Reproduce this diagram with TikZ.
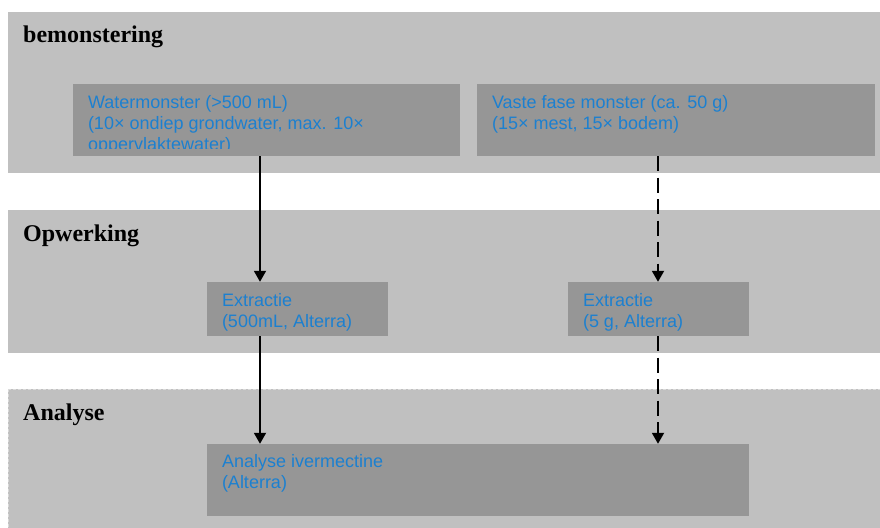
\documentclass[tikz,border=0pt]{standalone}
\usepackage{fontspec}
\setmainfont{Liberation Serif}
\setsansfont{Liberation Sans}
\usetikzlibrary{arrows.meta, positioning}

\definecolor{bandgray}{RGB}{192,192,192}
\definecolor{boxgray}{RGB}{150,150,150}
\definecolor{edgegray}{RGB}{218,218,218}
\definecolor{txtblue}{RGB}{28,128,208}

\tikzset{
  band/.style={fill=bandgray, draw=none},
  phase/.style={anchor=base west, inner sep=0pt, font=\fontsize{24}{28}\selectfont\bfseries},
  stepbox/.style={rectangle, fill=boxgray, draw=none, inner sep=0pt},
  boxtext/.style={inner sep=0pt, align=left, text=txtblue, font=\sffamily\fontsize{18}{21}\selectfont},
  flow/.style={-{Triangle[length=11pt, width=12pt]}, line width=1.8pt},
  flowdash/.style={flow, dash pattern=on 15pt off 6.5pt}
}

\begin{document}
\begin{tikzpicture}[x=1pt,y=-1pt]
    \useasboundingbox (0,0) rectangle (880,527);
    % fasen
    \path[band] (8,12) rectangle (884,173);
    \path[band] (8,210) rectangle (884,353);
    \path[band, draw=edgegray, line width=1pt, dash pattern=on 3pt off 2pt] (8,389) rectangle (884,532);
    \node[phase] (bem) at (23,43) {bemonstering};
    \node[phase] (opw) at (23,241) {Opwerking};
    \node[phase] (ana) at (23,420) {Analyse};

    % stappen
    \node[stepbox, minimum width=387pt, minimum height=72pt] (water) at (266.5,120) {};
    \begin{scope}
        \clip (water.north west) rectangle ([yshift=8pt]water.south east);
        \node[boxtext, below right=11pt and 15pt of water.north west] (watertxt) {Watermonster (>500 mL)\\(10× ondiep grondwater, max. 10×\\oppervlaktewater)};
    \end{scope}
    \node[stepbox, minimum width=398pt, minimum height=72pt] (vast) at (676,120) {};
    \node[boxtext, below right=11pt and 15pt of vast.north west] (vasttxt) {Vaste fase monster (ca. 50 g)\\(15× mest, 15× bodem)};

    \node[stepbox, minimum width=181pt, minimum height=54pt] (extrw) at (297.5,309) {};
    \node[boxtext, below right=11pt and 15pt of extrw.north west] (extrwtxt) {Extractie\\(500mL, Alterra)};
    \node[stepbox, minimum width=181pt, minimum height=54pt] (extrv) at (658.5,309) {};
    \node[boxtext, below right=11pt and 15pt of extrv.north west] (extrvtxt) {Extractie\\(5 g, Alterra)};

    \node[stepbox, minimum width=542pt, minimum height=72pt] (ivm) at (478,480) {};
    \node[boxtext, below right=10pt and 15pt of ivm.north west] (ivmtxt) {Analyse ivermectine\\(Alterra)};

    % pijlen
    \coordinate (lineW) at (260,0);
    \coordinate (lineV) at (658,0);
    \draw[flow] (water.south -| lineW) -- (extrw.north -| lineW);
    \draw[flow] (extrw.south -| lineW) -- (ivm.north -| lineW);
    \draw[flowdash] (vast.south -| lineV) -- (extrv.north -| lineV);
    \draw[flowdash] (extrv.south -| lineV) -- (ivm.north -| lineV);
\end{tikzpicture}
\end{document}
